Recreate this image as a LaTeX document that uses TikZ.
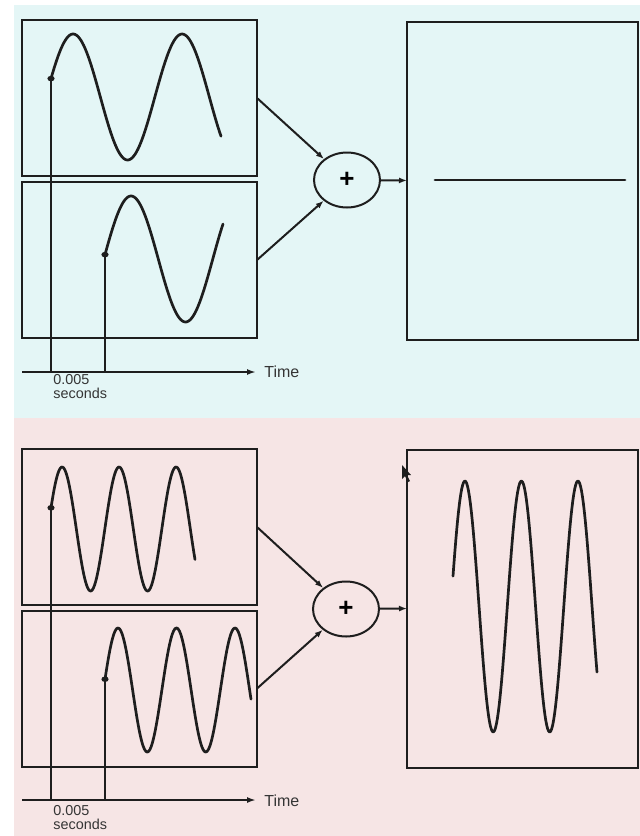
\documentclass[tikz,border=0pt]{standalone}
\usepackage{fontspec}
\setmainfont{Liberation Sans}
\usetikzlibrary{arrows.meta, shapes.geometric, positioning}

\definecolor{topbg}{HTML}{E4F6F6}
\definecolor{botbg}{HTML}{F6E5E5}
\definecolor{ink}{HTML}{1E1E1E}

\begin{document}
\begin{tikzpicture}[x=0.5pt, y=-0.5pt,
    screen/.style={draw=ink, line width=1pt, minimum width=117.5pt, minimum height=78pt, inner sep=0pt, outer sep=0pt},
    outscreen/.style={draw=ink, line width=1pt, minimum width=115.5pt, minimum height=159pt, inner sep=0pt, outer sep=0pt},
    summer/.style={ellipse, draw=ink, line width=1pt, minimum width=33pt, minimum height=27.5pt, inner sep=0pt, font=\fontsize{13}{13}\selectfont\bfseries},
    wave/.style={ink, line width=1.35pt, line join=round, line cap=round},
    feed/.style={ink, line width=1pt, -{Latex[length=4pt,width=3pt]}},
    marker/.style={ink, line width=0.9pt},
    timeax/.style={ink, line width=0.9pt, -{Latex[length=4.5pt,width=3pt]}},
    lbl/.style={font=\fontsize{8}{8}\selectfont, text=ink!90, inner sep=0pt, anchor=west},
    delay/.style={font=\fontsize{7.2}{6.8}\selectfont, text=ink!90, inner sep=0pt, anchor=north west, align=left}
]
    \useasboundingbox (0,0) rectangle (640,836);

    % Backgrounds of the two panels
    \fill[topbg] (14,5) rectangle (640,418);
    \fill[botbg] (14,418) rectangle (640,836);

    %%% Top panel: waves half a period apart cancel
    \node[screen] (waveA) at (139.5,98) {};
    \node[screen] (waveB) at (139.5,260) {};
    \node[summer] (sumTop) at (347,180) {+};
    \node[outscreen] (outTop) at (522.5,180.5) {};

    % Input waves
    \draw[wave] plot[domain=51:221, samples=120] (\x, {97-63*sin(17+(\x-51)/109*360)});
    \draw[wave] plot[domain=105:223, samples=120] (\x, {259-63*sin(4+(\x-105)/109*360)});
    \coordinate (dotA) at (51,{97-63*sin(17)});
    \coordinate (dotB) at (105,{259-63*sin(4)});

    % Time axis and delay markers
    \coordinate (axTopS) at (22,372);
    \coordinate (axTopE) at (256,372);
    \draw[timeax] (axTopS) -- (axTopE);
    \draw[marker] (dotA) -- (dotA |- axTopS);
    \draw[marker] (dotB) -- (dotB |- axTopS);
    \fill[ink] (dotA) ellipse (3.6 and 2.8);
    \fill[ink] (dotB) ellipse (3.6 and 2.8);
    \node[lbl] (timeTop) at (264,372) {Time};
    \node[delay] (delayTop) at (53,374) {0.005\\seconds};

    % Sum
    \draw[feed] (waveA.east) -- (sumTop);
    \draw[feed] (waveB.east) -- (sumTop);
    \draw[feed] (sumTop) -- (outTop.west);

    % Flat result
    \coordinate (flatS) at (435,180);
    \coordinate (flatE) at (625,180);
    \draw[wave] (flatS) -- (flatE);

    %%% Bottom panel: same delay, waves add up
    \node[screen] (waveC) at (139.5,527) {};
    \node[screen] (waveD) at (139.5,688.5) {};
    \node[summer] (sumBot) at (346,609) {+};
    \node[outscreen] (outBot) at (522.5,608.5) {};

    % Input waves
    \draw[wave] plot[domain=51:195, samples=150] (\x, {529-62*sin(20+(\x-51)/57*360)});
    \draw[wave] plot[domain=105:251, samples=150] (\x, {690-62*sin(10+(\x-105)/58.5*360)});
    \coordinate (dotC) at (51,{529-62*sin(20)});
    \coordinate (dotD) at (105,{690-62*sin(10)});

    % Time axis and delay markers
    \coordinate (axBotS) at (22,800);
    \coordinate (axBotE) at (256,800);
    \draw[timeax] (axBotS) -- (axBotE);
    \draw[marker] (dotC) -- (dotC |- axBotS);
    \draw[marker] (dotD) -- (dotD |- axBotS);
    \fill[ink] (dotC) ellipse (3.6 and 2.8);
    \fill[ink] (dotD) ellipse (3.6 and 2.8);
    \node[lbl] (timeBot) at (264,801) {Time};
    \node[delay] (delayBot) at (53,805) {0.005\\seconds};

    % Sum
    \draw[feed] (waveC.east) -- (sumBot);
    \draw[feed] (waveD.east) -- (sumBot);
    \draw[feed] (sumBot) -- (outBot.west);

    % Doubled result
    \draw[wave] plot[domain=453:597, samples=150] (\x, {606.5-125.5*sin(14+(\x-453)/56.5*360)});

    % Mouse pointer
    \fill[ink] (402,465) -- (402,479) -- (405,476) -- (408,482) -- (410,481) -- (407,475) -- (411,475) -- cycle;

\end{tikzpicture}
\end{document}
